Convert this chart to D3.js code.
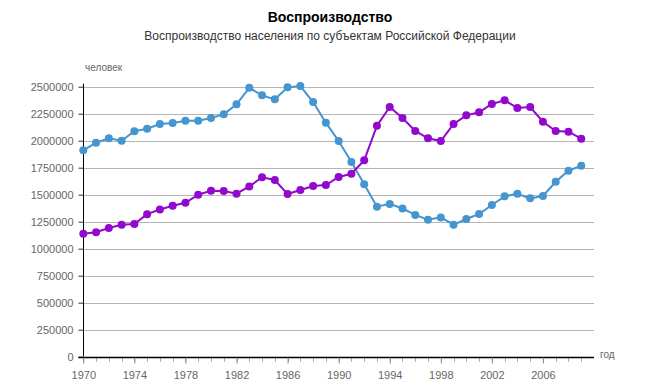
<!DOCTYPE html>
<html><head><meta charset="utf-8">
<script src="https://cdn.jsdelivr.net/npm/d3@7"></script>
<style>body{margin:0;background:#fff;} svg{font-family:"Liberation Sans",Arial,sans-serif;}</style>
</head><body>
<svg id="c" width="660" height="391"></svg>
<script>
const years = d3.range(1970, 2010);
const blueValues = [1911000,1981000,2022000,2000000,2087000,2111000,2155000,2164000,2185000,2185000,
  2210000,2244000,2337000,2490000,2420000,2383000,2494000,2506000,2358000,2167000,
  1997000,1803000,1596000,1389000,1415000,1372000,1313000,1268000,1290000,1222000,
  1275000,1321000,1405000,1485000,1509000,1466000,1488000,1620000,1722000,1769000];
const purpleValues = [1139000,1152000,1192000,1222000,1229000,1320000,1363000,1398000,1425000,1500000,
  1537000,1534000,1509000,1576000,1661000,1636000,1506000,1543000,1580000,1590000,
  1664000,1694000,1818000,2139000,2312000,2210000,2090000,2022000,1997000,2155000,
  2235000,2263000,2340000,2374000,2303000,2312000,2176000,2090000,2083000,2019000];
const yTicks = [0,250000,500000,750000,1000000,1250000,1500000,1750000,2000000,2250000,2500000];
const xTicks = [1970,1974,1978,1982,1986,1990,1994,1998,2002,2006];
const title = "Воспроизводство";
const subtitle = "Воспроизводство населения по субъектам Российской Федерации";

const svg = d3.select("#c");
const x = d3.scaleLinear().domain([1970, 2010]).range([83.3, 594]);
const y = d3.scaleLinear().domain([0, 2500000]).range([356.7, 86.7]);

svg.append("text").attr("x", 330).attr("y", 22).attr("text-anchor","middle")
  .attr("font-weight","bold").attr("font-size",14).attr("fill","#000").text(title);
svg.append("text").attr("x", 330).attr("y", 40).attr("text-anchor","middle")
  .attr("font-size",12).attr("fill","#333").text(subtitle);
svg.append("text").attr("x", 85).attr("y", 71).attr("font-size",10).attr("fill","#666").text("человек");
svg.append("text").attr("x", 600).attr("y", 358).attr("font-size",10).attr("fill","#666").text("год");

// grid
svg.append("g").selectAll("line").data(yTicks.filter(d=>d>0)).join("line")
  .attr("x1", x(1970)).attr("x2", x(2010)).attr("y1", d=>Math.round(y(d))+0.5).attr("y2", d=>Math.round(y(d))+0.5)
  .attr("stroke","#b5b5b5").attr("stroke-width",1);

// y axis
const ya = svg.append("g").attr("transform",`translate(${Math.round(x(1970))+0.5},0)`)
  .call(d3.axisLeft(y).tickValues(yTicks).tickSize(5).tickPadding(5).tickFormat(d3.format("d")));
ya.select(".domain").attr("stroke","#000").attr("d", `M0,${y(0)}V${y(2500000)-3}`);
ya.selectAll(".tick line").attr("stroke","#333");
ya.selectAll("text").attr("font-size",11).attr("fill","#666").attr("font-family","Liberation Sans, Arial, sans-serif");

// x axis minor ticks
svg.append("g").selectAll("line").data(years).join("line")
  .attr("x1", d=>Math.round(x(d))+0.5).attr("x2", d=>Math.round(x(d))+0.5)
  .attr("y1", y(0)).attr("y2", y(0)+5).attr("stroke","#aaa");
const xa = svg.append("g").attr("transform",`translate(0,${Math.round(y(0))+0.5})`)
  .call(d3.axisBottom(x).tickValues(xTicks).tickSize(6).tickPadding(8).tickFormat(d3.format("d")));
xa.select(".domain").attr("stroke","#000").attr("stroke-width",1.5).attr("d", `M${x(1970)-5},0H${x(2010)}`);
xa.selectAll(".tick line").attr("stroke","#888");
xa.selectAll("text").attr("font-size",11).attr("fill","#666").attr("font-family","Liberation Sans, Arial, sans-serif");

const series = [{vals: blueValues, color: "#4595d0"}, {vals: purpleValues, color: "#9208cc"}];
const line = d3.line().x((d,i)=>x(years[i])).y(d=>y(d));
series.forEach(s => {
  svg.append("path").datum(s.vals).attr("d", line).attr("fill","none")
    .attr("stroke", s.color).attr("stroke-width", 2);
  svg.append("g").selectAll("circle").data(s.vals).join("circle")
    .attr("cx", (d,i)=>x(years[i])).attr("cy", d=>y(d)).attr("r", 4).attr("fill", s.color);
});
</script>
</body></html>
